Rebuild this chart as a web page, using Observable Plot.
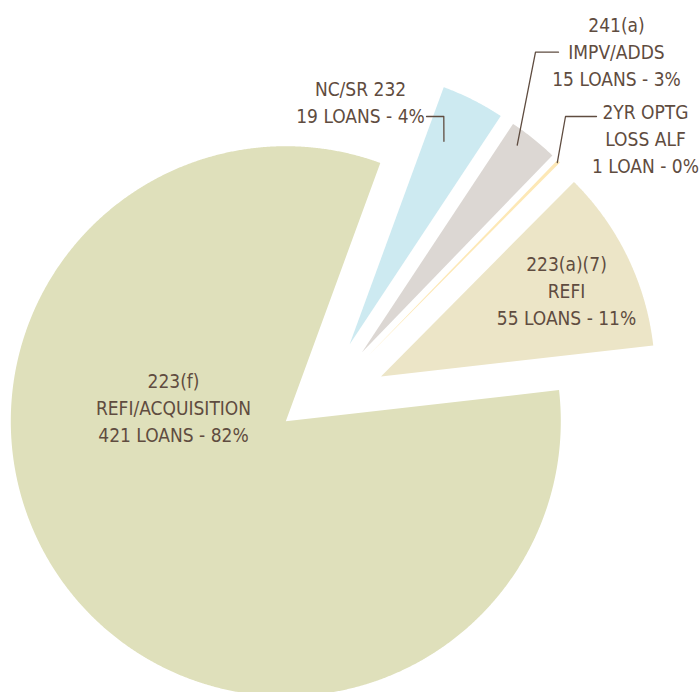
<!DOCTYPE html>
<html><head><meta charset="utf-8">
<script src="https://cdn.jsdelivr.net/npm/d3@7"></script>
<script src="https://cdn.jsdelivr.net/npm/@observablehq/plot@0.6"></script>
<style>html,body{margin:0;padding:0;background:#fff;overflow:hidden}</style>
</head><body><div id="chart"></div>
<script>
// ---- data ----
const categories = ["NC/SR 232", "241(a)\nIMPV/ADDS", "2YR OPTG\nLOSS ALF", "223(a)(7)\nREFI", "223(f)\nREFI/ACQUISITION"];
const loans = [19, 15, 1, 55, 421];
const colors = ["#cdeaf1", "#dcd7d3", "#fde8b6", "#ece5c7", "#dfe0bb"];

// ---- layout ----
const W = 699, H = 692;
const CX = 317.5, CY = 406.5;          // pie centre in the picture
const START = 20.1 * Math.PI / 180;     // first slice starts here (clockwise from north)
const explode = [{d: 70}, {d: 70}, {d: 70}, {d: 70}, {d: 35.2, dir: 246.2}];
const radius = [274, 274, 274, 274, 275];
const labelPos = [[360, 100.5], [616, 50], [645, 137], [566, 289], [173, 406]];
const leaders = [
  {i: 0, t: 0.36, r: 224, elbow: [443.3, 116], end: [426, 116]},
  {i: 1, t: 0.32, r: 259, elbow: [535, 51.7], end: [558, 51.7]},
  {i: 2, t: 0.5,  r: 272, elbow: [565, 116], end: [596, 116]}
];
const TEXT = "#5f4c40";
const FONT = "'Liberation Sans Narrow', 'Arial Narrow', 'DejaVu Sans Condensed', 'Roboto Condensed', sans-serif";

const total = d3.sum(loans);
const arcs = d3.pie().sort(null).value(d => d).startAngle(START).endAngle(START + 2 * Math.PI)(loans);

function apex(i) {
  const a = arcs[i];
  const e = explode[i];
  const dir = e.dir != null ? e.dir * Math.PI / 180 : (a.startAngle + a.endAngle) / 2;
  return [e.d * Math.sin(dir), -e.d * Math.cos(dir)];
}

const slicePts = [];
arcs.forEach((a, i) => {
  const [ox, oy] = apex(i);
  const key = "s" + i;
  slicePts.push({key, x: ox, y: oy, color: colors[i]});
  const n = Math.max(2, Math.ceil((a.endAngle - a.startAngle) / (0.25 * Math.PI / 180)));
  for (let k = 0; k <= n; k++) {
    const th = a.startAngle + (a.endAngle - a.startAngle) * k / n;
    slicePts.push({key, x: ox + radius[i] * Math.sin(th), y: oy - radius[i] * Math.cos(th), color: colors[i]});
  }
});

const leaderPts = [];
leaders.forEach(l => {
  const a = arcs[l.i];
  const [ox, oy] = apex(l.i);
  const th = a.startAngle + (a.endAngle - a.startAngle) * l.t;
  const key = "l" + l.i;
  leaderPts.push({key, x: ox + l.r * Math.sin(th), y: oy - l.r * Math.cos(th)});
  leaderPts.push({key, x: l.elbow[0] - CX, y: l.elbow[1] - CY});
  leaderPts.push({key, x: l.end[0] - CX, y: l.end[1] - CY});
});

const labels = loans.map((v, i) => ({
  x: labelPos[i][0] - CX,
  y: labelPos[i][1] - CY,
  text: `${categories[i]}\n${v} ${v === 1 ? "LOAN" : "LOANS"} - ${Math.round(v / total * 100)}%`
}));

const chart = Plot.plot({
  width: W, height: H, margin: 0,
  x: {domain: [-CX, W - CX], range: [0, W], axis: null},
  y: {domain: [-CY, H - CY], range: [0, H], axis: null},
  color: {type: "identity"},
  style: {background: "#fff"},
  marks: [
    Plot.line(slicePts, {x: "x", y: "y", z: "key", fill: "color", stroke: "none", curve: "linear-closed"}),
    Plot.line(leaderPts, {x: "x", y: "y", z: "key", stroke: TEXT, strokeWidth: 1.3, fill: "none"}),
    Plot.text(labels, {x: "x", y: "y", text: "text", fill: TEXT, fontSize: 19, lineHeight: 1.42, fontFamily: FONT, textAnchor: "middle"})
  ]
});
document.getElementById("chart").appendChild(chart);
</script>
</body></html>
